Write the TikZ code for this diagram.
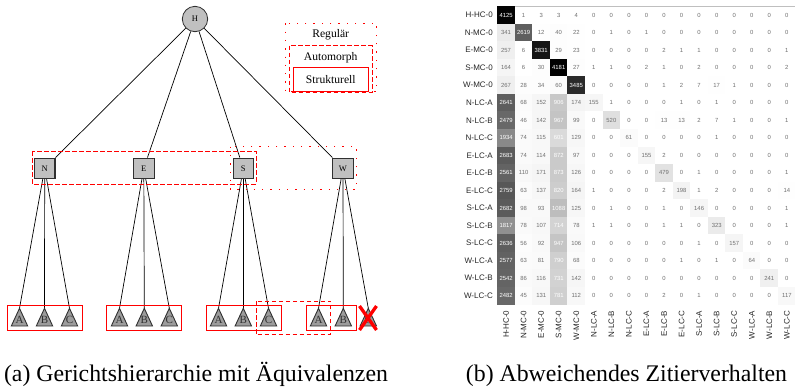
\documentclass[tikz,border=0pt]{standalone}
\usepackage{fontspec}
\setmainfont{Liberation Serif}
\newfontfamily\arialf{Liberation Sans}
\definecolor{nodegray}{HTML}{C0C0C0}
\definecolor{leafgray}{HTML}{9C9C9C}
\definecolor{bordergray}{HTML}{303030}
\definecolor{labelgray}{HTML}{262626}
\definecolor{numgray}{HTML}{707070}
\tikzset{
 rootnode/.style={circle, draw=bordergray, fill=nodegray, line width=0.8pt, minimum size=25.4pt, inner sep=0pt, font=\fontsize{8.5}{9}\selectfont},
 midnode/.style={rectangle, draw=bordergray, fill=nodegray, line width=1.1pt, minimum size=20.5pt, inner sep=0pt, font=\fontsize{8.5}{9}\selectfont},
 leafshape/.style={draw=bordergray, fill=leafgray, line width=0.9pt, line join=miter},
 leaflabel/.style={inner sep=0pt, text=bordergray, font=\fontsize{11}{12}\selectfont},
 treeedge/.style={line width=0.7pt, black},
 strukbox/.style={draw=red, line width=0.9pt},
 autobox/.style={draw=red, line width=0.9pt, dash pattern=on 4.5pt off 2.5pt},
 regbox/.style={draw=red, line width=0.9pt, dash pattern=on 1.3pt off 7pt},
 legendtext/.style={font=\fontsize{11.6}{13}\selectfont, inner sep=0pt},
 cell/.style={rectangle, minimum width=17.75pt, minimum height=17.75pt, inner sep=0pt, font=\arialf\fontsize{5.9}{6}\selectfont},
 rowlab/.style={anchor=east, inner sep=0pt, text=labelgray, font=\arialf\fontsize{8}{9}\selectfont},
 collab/.style={anchor=east, rotate=90, inner sep=0pt, text=labelgray, font=\arialf\fontsize{8}{9}\selectfont},
 captext/.style={anchor=base, inner sep=0pt, font=\fontsize{23.8}{28}\selectfont},
}
\newcommand\leafnode[4]{%
 \coordinate (#1) at (#2,308.3);
 \draw[treeedge] (#4) -- (#1);
 \filldraw[leafshape] (#1) -- ++(8.2,17.7) -- ++(-16.4,0) -- cycle;
 \node[leaflabel] (#1-l) at (#2,320.3) {#3};
}
\newcommand\mrow[3]{%
 \node[rowlab] (r#1) at (493,{6.2+17.55*(#1+0.5)}) {#2};
 \foreach \v [count=\c from 0] in {#3} {
   \pgfmathsetmacro\p{\v/41.81}
   \ifnum\v>560 \def\tc{white}\else\def\tc{numgray}\fi
   \node[cell, fill=black!\p!white, text=\tc] (m#1-\c) at ({497.3+17.55*(\c+0.5)},{6.2+17.55*(#1+0.5)}) {\v};
 }
}
\begin{document}
\begin{tikzpicture}[x=1pt,y=-1pt]
\useasboundingbox (0,0) rectangle (795,389);
% ---------- tree ----------
\node[rootnode] (H) at (195,19) {H};
\node[midnode] (N) at (44.7,168.3) {N};
\node[midnode] (E) at (143.8,168.3) {E};
\node[midnode] (S) at (243.3,168.3) {S};
\node[midnode] (W) at (343,168.3) {W};
\foreach \m in {N,E,S,W} \draw[treeedge] (H) -- (\m);
\leafnode{NA}{19.5}{A}{N}
\leafnode{NB}{44.5}{B}{N}
\leafnode{NC}{69.5}{C}{N}
\leafnode{EA}{119.5}{A}{E}
\leafnode{EB}{144.3}{B}{E}
\leafnode{EC}{169.3}{C}{E}
\leafnode{SA}{218.5}{A}{S}
\leafnode{SB}{243.3}{B}{S}
\leafnode{SC}{268.5}{C}{S}
\leafnode{WA}{318.5}{A}{W}
\leafnode{WB}{343.3}{B}{W}
\leafnode{WC}{368.3}{C}{W}
% equivalence boxes
\draw[strukbox] (7.3,305) rectangle (82,330);
\draw[strukbox] (106.7,305) rectangle (181.7,330);
\draw[strukbox] (206.7,305) rectangle (281,330);
\draw[strukbox] (306,305) rectangle (356.7,330);
\draw[autobox] (256,301) rectangle (330.7,334.3);
\draw[autobox] (32.3,151) rectangle (256,184);
\draw[regbox] (230,146.7) rectangle (356.3,189.3);
% red cross
\draw[red, line width=3.3pt] (359.5,306) -- (376.5,330);
\draw[red, line width=3.3pt] (376.5,306) -- (359.5,330);
% legend
\draw[regbox] (285,23.3) rectangle (376.7,91.7);
\draw[autobox] (289.3,45.7) rectangle (372,92.3);
\draw[strukbox] (293.3,67.7) rectangle (368.3,91.3);
\node[legendtext] (lreg) at (330.7,34.7) {Regulär};
\node[legendtext] (laut) at (330.7,57.3) {Automorph};
\node[legendtext] (lstr) at (330.8,79.5) {Strukturell};
% ---------- matrix ----------
\mrow{0}{H-HC-0}{4125,1,3,3,4,0,0,0,0,0,0,0,0,0,0,0,0}
\mrow{1}{N-MC-0}{341,2619,12,40,22,0,1,0,1,0,0,0,0,0,0,0,0}
\mrow{2}{E-MC-0}{257,6,3831,29,23,0,0,0,0,2,1,1,0,0,0,0,1}
\mrow{3}{S-MC-0}{164,6,30,4181,27,1,1,0,2,1,0,2,0,0,0,0,2}
\mrow{4}{W-MC-0}{267,28,34,60,3485,0,0,0,0,1,2,7,17,1,0,0,0}
\mrow{5}{N-LC-A}{2641,68,152,906,174,155,1,0,0,0,1,0,1,0,0,0,0}
\mrow{6}{N-LC-B}{2479,46,142,967,99,0,520,0,0,13,13,2,7,1,0,0,1}
\mrow{7}{N-LC-C}{1934,74,115,601,129,0,0,61,0,0,0,0,1,0,0,0,0}
\mrow{8}{E-LC-A}{2683,74,114,872,97,0,0,0,155,2,0,0,0,0,0,0,0}
\mrow{9}{E-LC-B}{2561,110,171,873,126,0,0,0,0,479,0,1,0,0,0,0,1}
\mrow{10}{E-LC-C}{2759,63,137,820,164,1,0,0,0,2,198,1,2,0,0,0,14}
\mrow{11}{S-LC-A}{2682,98,93,1088,125,0,1,0,0,1,0,146,0,0,0,0,1}
\mrow{12}{S-LC-B}{1817,78,107,714,78,1,1,0,0,1,1,0,323,0,0,0,1}
\mrow{13}{S-LC-C}{2636,56,92,947,106,0,0,0,0,0,0,1,0,157,0,0,0}
\mrow{14}{W-LC-A}{2577,63,81,790,68,0,0,0,0,0,1,0,1,0,64,0,0}
\mrow{15}{W-LC-B}{2542,86,116,731,142,0,0,0,0,0,0,0,0,0,0,241,0}
\mrow{16}{W-LC-C}{2482,45,131,781,112,0,0,0,0,2,0,1,0,0,0,0,117}
\draw[black!25, line width=0.8pt] (514.85,6.2) -- (795,6.2);
\foreach \lab [count=\c from 0] in {H-HC-0,N-MC-0,E-MC-0,S-MC-0,W-MC-0,N-LC-A,N-LC-B,N-LC-C,E-LC-A,E-LC-B,E-LC-C,S-LC-A,S-LC-B,S-LC-C,W-LC-A,W-LC-B,W-LC-C}
  \node[collab] (c\c) at ({497.3+17.55*(\c+0.5)},310.5) {\lab};
% ---------- captions ----------
\node[captext] (capa) at (196,381) {(a) Gerichtshierarchie mit Äquivalenzen};
\node[captext] (capb) at (626.5,381) {(b) Abweichendes Zitierverhalten};
\end{tikzpicture}
\end{document}
